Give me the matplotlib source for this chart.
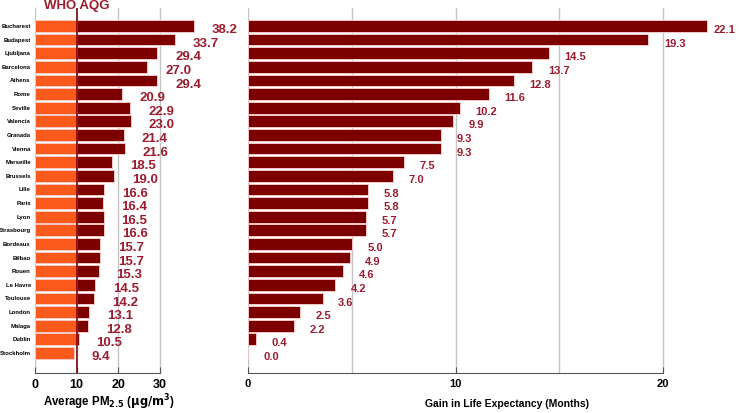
import numpy as np
import matplotlib
matplotlib.use('Agg')
import matplotlib.pyplot as plt

plt.rcParams['font.family'] = ['Liberation Sans', 'DejaVu Sans']

cities = ['Bucharest', 'Budapest', 'Ljubljana', 'Barcelona', 'Athens', 'Rome',
          'Seville', 'Valencia', 'Granada', 'Vienna', 'Marseille', 'Brussels',
          'Lille', 'Paris', 'Lyon', 'Strasbourg', 'Bordeaux', 'Bilbao', 'Rouen',
          'Le Havre', 'Toulouse', 'London', 'Malaga', 'Dublin', 'Stockholm']
pm25 = [38.2, 33.7, 29.4, 27.0, 29.4, 20.9, 22.9, 23.0, 21.4, 21.6, 18.5, 19.0,
        16.6, 16.4, 16.5, 16.6, 15.7, 15.7, 15.3, 14.5, 14.2, 13.1, 12.8, 10.5, 9.4]
gain = [22.1, 19.3, 14.5, 13.7, 12.8, 11.6, 10.2, 9.9, 9.3, 9.3, 7.5, 7.0,
        5.8, 5.8, 5.7, 5.7, 5.0, 4.9, 4.6, 4.2, 3.6, 2.5, 2.2, 0.4, 0.0]
who_aqg = 10

orange = '#fc5a1c'
darkred = '#7d0000'
labred = '#9c1b2e'
grid = '#c4c4c4'
edge = '#f3c9c9'

W, H = 746, 413
fig = plt.figure(figsize=(W / 100, H / 100), dpi=100)
top_px, bot_px = 8, 373
b = (H - bot_px) / H
h = (bot_px - top_px) / H
ax1 = fig.add_axes([35 / W, b, 208 / W, h])
ax2 = fig.add_axes([248 / W, b, 498 / W, h])

y = np.arange(len(cities))
pm = np.array(pm25)
g = np.array(gain)
bh = 0.86

# left panel: PM2.5
ax1.barh(y, np.minimum(pm, who_aqg), height=bh, color=orange, edgecolor=edge, linewidth=0.7)
above = pm > who_aqg
ax1.barh(y[above], pm[above] - who_aqg, left=who_aqg, height=bh, color=darkred,
         edgecolor=edge, linewidth=0.7)
for yi, v in zip(y, pm):
    ax1.text(v + 4.3, yi + 0.3, f'{v:.1f}', color=labred, fontsize=9.5,
             fontweight='bold', va='center', ha='left')
ax1.set_xlim(0, 50)
ax1.set_ylim(len(cities) - 1 + 1.47, -1.32)
for gx in [0, 20, 30]:
    ax1.axvline(gx, color=grid, lw=1, zorder=0)
ax1.axvline(who_aqg, color=darkred, lw=1.2, zorder=3)
ax1.text(who_aqg, -1.45, 'WHO AQG', color=labred, fontsize=9.5, fontweight='bold',
         ha='center', va='center')
ax1.set_yticks(y)
ax1.set_yticklabels(cities, fontsize=4.3, fontweight='bold')
ax1.set_xticks([0, 10, 20, 30])
ax1.set_xticklabels(['0', '10', '20', '30'], fontsize=9, fontweight='bold')
ax1.set_xlabel(r'Average PM$_{\mathbf{2.5}}$ ($\mathbf{\mu g/m^3}$)', fontsize=8.3,
               fontweight='bold')
ax1.xaxis.set_label_coords(0.356, -0.054)

# right panel: gain in life expectancy
ax2.barh(y, g, height=bh, color=darkred, edgecolor=edge, linewidth=0.7)
for yi, v in zip(y, g):
    off = 0.35 if yi == 0 else 0.75
    ax2.text(v + off, yi + 0.3, f'{v:.1f}', color=labred, fontsize=8,
             fontweight='bold', va='center', ha='left')
ax2.set_xlim(0, 24)
ax2.set_ylim(len(cities) - 1 + 1.47, -1.32)
for gx in [0, 5, 10, 15, 20]:
    ax2.axvline(gx, color=grid, lw=1, zorder=0)
ax2.set_yticks([])
ax2.set_xticks([0, 10, 20])
ax2.set_xticklabels(['0', '10', '20'], fontsize=8, fontweight='bold')
ax2.set_xlabel('Gain in Life Expectancy (Months)', fontsize=7.5, fontweight='bold')
ax2.xaxis.set_label_coords(0.52, -0.072)

for ax, lim in [(ax1, 30), (ax2, 20)]:
    for s in ['top', 'right', 'left']:
        ax.spines[s].set_visible(False)
    ax.spines['bottom'].set_bounds(0, lim)
    ax.spines['bottom'].set_color('#555555')
    ax.tick_params(axis='x', direction='in', length=4, color='#555555', pad=4)
    ax.tick_params(axis='y', length=0, pad=3)
    ax.set_facecolor('white')

fig.savefig('out.png', dpi=100)
